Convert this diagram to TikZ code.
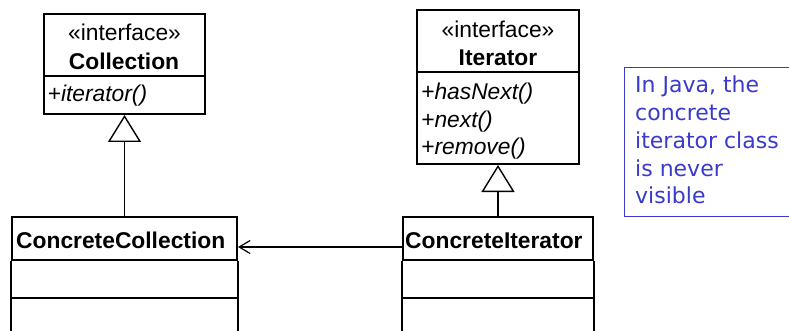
\documentclass[tikz,border=0pt]{standalone}
\usepackage{fontspec}
\setmainfont{Liberation Sans}
\newfontfamily\notefont{DejaVu Sans}
\usetikzlibrary{arrows.meta}
\definecolor{noteblue}{RGB}{58,58,204}
\newcommand{\umlfont}{\fontsize{22.8}{27.6}\selectfont}
\newcommand{\notesize}{\notefont\fontsize{22}{27.8}\selectfont}
\begin{document}
\begin{tikzpicture}[x=1pt,y=-1pt,
  cls/.style={draw=black, line width=2pt, inner sep=0pt, fill=white},
  part/.style={draw=black, line width=2pt},
  lbl/.style={inner sep=0pt, font=\umlfont},
  bold/.style={lbl, font=\umlfont\bfseries},
  oper/.style={lbl, font=\umlfont\itshape, anchor=base west},
  gen/.style={draw=black, line width=1.2pt,
    -{Triangle[open, length=27pt, width=33pt, line width=1.4pt]}},
  assoc/.style={draw=black, line width=1.2pt,
    -{Straight Barb[length=11pt, width=13pt, line width=1.2pt]}},
  notebox/.style={draw=noteblue, line width=1pt, inner sep=0pt},
  notetext/.style={inner sep=0pt, text=noteblue, font=\notesize, anchor=base west}]
\useasboundingbox (0,0) rectangle (789,331);
\fill[white] (0,0) rectangle (789,331);

% Collection interface
\node[cls, minimum width=161pt, minimum height=100pt] (coll) at (124.5,64) {};
\draw[part] ([yshift=-63pt]coll.north west) -- ([yshift=-63pt]coll.north east);
\node[lbl, anchor=base] (collst) at (124.5,41) {«interface»};
\node[bold, anchor=base] (collnm) at (124,70) {Collection};
\node[oper] (collop) at (47.5,102) {+iterator()};

% Iterator interface
\node[cls, minimum width=162pt, minimum height=154pt] (iter) at (498,87) {};
\draw[part] ([yshift=-63pt]iter.north west) -- ([yshift=-63pt]iter.north east);
\node[lbl, anchor=base] (iterst) at (498,38) {«interface»};
\node[bold, anchor=base] (iternm) at (498,66) {Iterator};
\node[oper] (iterop1) at (421,100) {+hasNext()};
\node[oper] (iterop2) at (421,127.5) {+next()};
\node[oper] (iterop3) at (421,155) {+remove()};

% ConcreteCollection class (continues below the page edge)
\node[cls, minimum width=225pt, minimum height=43pt] (cc) at (124.5,238.5) {};
\draw[part] (cc.south west) -- ++(0,80);
\draw[part] (cc.south east) -- ++(0,80);
\draw[part] ([yshift=-37pt]cc.south west) -- ([yshift=-37pt]cc.south east);
\node[bold, anchor=base west] (ccnm) at (16,248) {ConcreteCollection};

% ConcreteIterator class (continues below the page edge)
\node[cls, minimum width=190pt, minimum height=43pt] (ci) at (498,238.5) {};
\draw[part] (ci.south west) -- ++(0,80);
\draw[part] (ci.south east) -- ++(0,80);
\draw[part] ([yshift=-37pt]ci.south west) -- ([yshift=-37pt]ci.south east);
\node[bold, anchor=base west] (cinm) at (405,248) {ConcreteIterator};

% Relations
\draw[gen] (cc.north) -- (coll.south);
\draw[gen] (ci.north) -- (iter.south);
\draw[assoc] ([yshift=-8.5pt]ci.west) -- ([yshift=-8.5pt]cc.east);

% Note
\node[notebox, minimum width=190pt, minimum height=149pt, anchor=north west] (note) at (624,67) {};
\node[notetext] (n1) at (635,93) {In Java, the};
\node[notetext] (n2) at (635,121) {concrete};
\node[notetext] (n3) at (635,149) {iterator class};
\node[notetext] (n4) at (635,177) {is never};
\node[notetext] (n5) at (635,204) {visible};
\end{tikzpicture}
\end{document}
